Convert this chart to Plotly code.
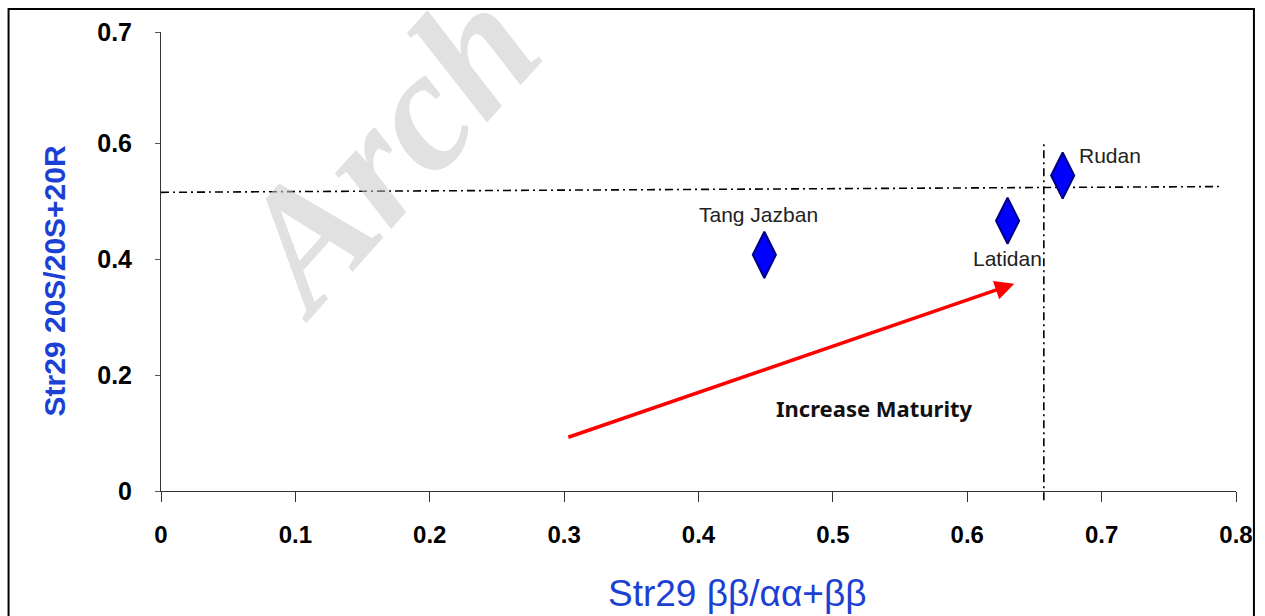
import plotly.graph_objects as go

# ---------------- data ----------------
SAMPLES = ["Tang Jazban", "Latidan", "Rudan"]
X_BB = [0.449, 0.630, 0.671]          # Str29 bb/(aa+bb)
Y_SR = [0.408, 0.467, 0.545]          # Str29 20S/(20S+20R)
LABEL_SHIFT_X = [-6, 0, 47]
LABEL_SHIFT_Y = [40, -38, 20]

X_TICK_VALS = [0, 0.1, 0.2, 0.3, 0.4, 0.5, 0.6, 0.7, 0.8]
X_TICK_TEXT = ["0", "0.1", "0.2", "0.3", "0.4", "0.5", "0.6", "0.7", "0.8"]
Y_TICK_VALS = [0, 0.2, 0.4, 0.6, 0.793]
Y_TICK_TEXT = ["0", "0.2", "0.4", "0.6", "0.7"]

# reference (equilibrium) lines
H_LINE_X = [0.0, 0.79]
H_LINE_Y = [0.516, 0.526]
V_LINE_X = 0.657
V_LINE_Y = [-0.016, 0.60]

# maturity trend arrow
ARROW_START = (0.302, 0.092)
ARROW_END = (0.635, 0.358)
ARROW_TEXT = "Increase Maturity"
ARROW_TEXT_POS = (0.531, 0.143)

X_RANGE = [0, 0.8]
Y_RANGE = [0, 0.793]

# ---------------- layout geometry ----------------
W, H = 1265, 616
ML, MR, MT, MB = 161, 25, 32, 125
PW, PH = W - ML - MR, H - MT - MB


def px_to_paper(px, py):
    return (px - ML) / PW, (H - MB - py) / PH


BLUE_TITLE = "#1c3fd4"
FONT = "Liberation Sans, Arial, sans-serif"

fig = go.Figure()

# watermark (drawn first, behind everything)
wm = px_to_paper(385, 150)
fig.add_annotation(xref="paper", yref="paper", x=wm[0], y=wm[1],
                   xanchor="center", yanchor="middle", textangle=-48,
                   text="<b><i>Arch</i></b>", showarrow=False,
                   font=dict(family="Liberation Serif, Times New Roman, serif", size=172,
                             color="rgba(200,200,200,0.55)"))

# horizontal dash-dot line
fig.add_trace(go.Scatter(
    x=H_LINE_X, y=H_LINE_Y, mode="lines",
    line=dict(color="black", width=1.6, dash="8px,4px,2px,4px"),
    hoverinfo="skip", showlegend=False))

# samples
fig.add_trace(go.Scatter(
    x=X_BB, y=Y_SR, mode="markers",
    marker=dict(symbol="diamond-tall", size=33, color="#0000ff",
                line=dict(color="#000080", width=2)),
    text=SAMPLES, hoverinfo="text", showlegend=False, cliponaxis=False))

# vertical dash-dot line (paper-referenced y so it can pass below the axis)
vy0 = (V_LINE_Y[0] - Y_RANGE[0]) / (Y_RANGE[1] - Y_RANGE[0])
vy1 = (V_LINE_Y[1] - Y_RANGE[0]) / (Y_RANGE[1] - Y_RANGE[0])
fig.add_shape(type="line", xref="x", yref="paper",
              x0=V_LINE_X, x1=V_LINE_X, y0=vy0, y1=vy1,
              line=dict(color="black", width=1.6, dash="8px,4px,2px,4px"))

# point labels
for name, x, y, dx, dy in zip(SAMPLES, X_BB, Y_SR, LABEL_SHIFT_X, LABEL_SHIFT_Y):
    fig.add_annotation(x=x, y=y, text=name, showarrow=False,
                       xanchor="center", yanchor="middle",
                       xshift=dx, yshift=dy,
                       font=dict(family=FONT, size=21, color="#222222"))

# arrow
fig.add_annotation(x=ARROW_END[0], y=ARROW_END[1], ax=ARROW_START[0], ay=ARROW_START[1],
                   xref="x", yref="y", axref="x", ayref="y", text="",
                   showarrow=True, arrowhead=2, arrowsize=1.1, arrowwidth=3.5,
                   arrowcolor="#ff0000", standoff=0, startstandoff=0)
fig.add_annotation(x=ARROW_TEXT_POS[0], y=ARROW_TEXT_POS[1], text="<b>" + ARROW_TEXT + "</b>",
                   xanchor="center", yanchor="middle", showarrow=False,
                   font=dict(family="Noto Sans, sans-serif", size=22, color="#111111"))

# axis titles
xt = px_to_paper(740, 593)
fig.add_annotation(xref="paper", yref="paper", x=xt[0], y=xt[1],
                   xanchor="center", yanchor="middle",
                   text="Str29 \u03b2\u03b2/\u03b1\u03b1+\u03b2\u03b2", showarrow=False,
                   font=dict(family=FONT, size=37, color=BLUE_TITLE))
yt = px_to_paper(54, 281)
fig.add_annotation(xref="paper", yref="paper", x=yt[0], y=yt[1], textangle=-90,
                   xanchor="center", yanchor="middle",
                   text="<b>Str29 20S/20S+20R</b>", showarrow=False,
                   font=dict(family=FONT, size=30, color=BLUE_TITLE))

# outer frame
bx0, by0 = px_to_paper(8, 640)
bx1, by1 = px_to_paper(1258, 9)
fig.add_shape(type="rect", xref="paper", yref="paper", x0=bx0, y0=by0, x1=bx1, y1=by1,
              line=dict(color="black", width=2), layer="below")

fig.update_xaxes(range=X_RANGE, tickvals=X_TICK_VALS, ticktext=X_TICK_TEXT,
                 showline=True, linecolor="#333333", linewidth=1, mirror=False,
                 ticks="outside", ticklen=10, tickcolor="#333333", tickwidth=1,
                 showgrid=False, zeroline=False, ticklabelstandoff=12,
                 tickfont=dict(family=FONT, size=24, color="black", weight="bold"))
fig.update_yaxes(range=Y_RANGE, tickvals=Y_TICK_VALS, ticktext=Y_TICK_TEXT,
                 showline=True, linecolor="#333333", linewidth=1, mirror=False,
                 ticks="outside", ticklen=5, tickcolor="#555555", tickwidth=1,
                 showgrid=False, zeroline=False, ticklabelstandoff=18,
                 tickfont=dict(family=FONT, size=25, color="black", weight="bold"))

fig.update_layout(width=W, height=H, margin=dict(l=ML, r=MR, t=MT, b=MB),
                  plot_bgcolor="white", paper_bgcolor="white", showlegend=False)

fig.write_html("out.html")
